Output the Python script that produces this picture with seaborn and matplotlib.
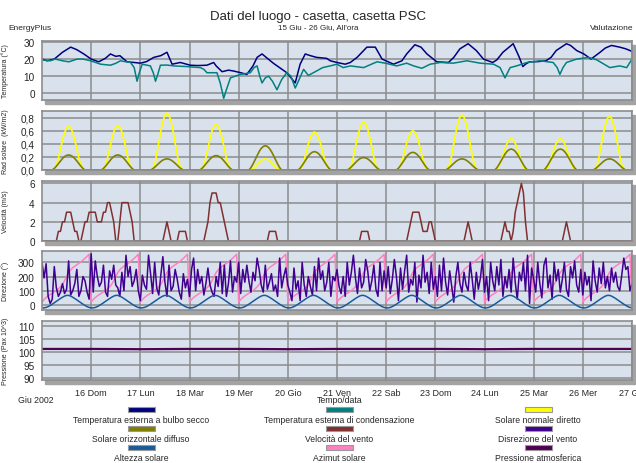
import numpy as np
import pandas as pd
import matplotlib
matplotlib.use("Agg")
import matplotlib.pyplot as plt
import seaborn as sns
from matplotlib.patches import Rectangle
from matplotlib.ticker import AutoMinorLocator, FuncFormatter

# ---------------- data (hours since 15 Jun 00:00) ----------------
day_labels = ["16 Dom", "17 Lun", "18 Mar", "19 Mer", "20 Gio", "21 Ven",
              "22 Sab", "23 Dom", "24 Lun", "25 Mar", "26 Mer", "27 Gio"]

drybulb_h = [0, 2.5, 6, 10, 14, 17, 20.4, 24, 27.7, 31, 33.4, 36, 38, 39, 41.5, 45, 48, 51, 54.6, 58,
             61, 63.5, 65.5, 67.5, 72.4, 76, 80.5, 83.8, 85, 87.9, 91, 93.5, 97, 100, 103, 105, 107.4,
             113, 119.5, 123.6, 126, 128.5, 131, 134, 139, 140.7, 144, 148, 150.5, 153.8, 158.6, 162.7,
             166, 171.6, 175.7, 178, 182, 185, 187.9, 192.7, 198.4, 201, 204, 208, 212, 215.5, 220,
             222, 225, 230, 233, 234.7, 236, 238, 242, 246, 248.5, 251, 256, 258, 261, 264.5, 268,
             272, 275, 278, 282, 285, 287, 288]
drybulb_t = [20, 19, 20, 24, 27, 25.5, 23, 20, 18.4, 20.5, 23, 21.6, 22, 21, 18.4, 18, 17.6, 18.5, 21, 22,
             24, 17, 17.5, 18, 16.4, 16.2, 16.4, 18, 16, 12.6, 13.5, 13, 12, 11, 16, 21, 23,
             17.5, 12, 6, 17, 23, 22, 21, 20.4, 19, 18, 17, 18, 21, 27, 27,
             20, 17, 19, 23, 28.4, 27, 23, 18.4, 18, 21, 26, 29, 25, 20, 18,
             19.5, 24, 29, 21, 15.6, 17, 18.4, 18.5, 19, 21, 25, 29, 28, 25, 23, 20,
             23.6, 26.5, 28, 27, 26, 25, 24.5]

dew_h = [0, 4, 6.5, 10, 13.1, 17.2, 20, 23.7, 28.6, 33.4, 36, 38.3, 41, 43.2, 45, 46.4, 47.5, 48.9,
         52.9, 54.3, 55.4, 56.5, 57.8, 61, 64.3, 70.8, 77.3, 79, 80.5, 85.4, 87, 88.7, 90, 92, 96.8,
         101.7, 103.5, 105, 106.3, 107.4, 109, 110.6, 112.5, 114.7, 117, 119.5, 121.5, 123.6, 125.5,
         127.7, 130, 134, 137, 140.7, 144, 147, 150.5, 157, 163.5, 167.6, 173.2, 178, 181.4, 185.4,
         189.5, 194.4, 200.8, 207.4, 213.9, 220.4, 223.6, 226, 228.5, 231.7, 236.6, 243, 249.5,
         251.5, 252.8, 254.3, 256, 261, 266.7, 270.7, 277.2, 282, 285.4, 288]
dew_t = [19.6, 19, 20, 19, 18.4, 20, 20, 19, 17, 16.4, 17.5, 19, 18.4, 18, 15, 7, 12, 17,
         16, 12, 7, 11, 16.4, 16.5, 16, 15.6, 15, 14, 12, 12, 6, -3, 2, 9, 11,
         12, 15, 16, 10, 6, 9, 10, 7, 2, 8, 12, 10, 3, 8,
         14, 10.4, 13, 15, 16, 17, 15, 16, 15, 18.4, 17.6, 16, 17.6, 16, 14.6,
         17, 18, 17.6, 19, 17.6, 17, 15, 9, 15, 16, 18, 19, 18,
         15, 11, 15, 18, 20, 21, 19.6, 15, 16, 15, 20]

# solar radiation: daily peaks (kW/m2) and hourly day profile (hours 5..21)
direct_peak = [0.67, 0.68, 0.87, 0.70, 0.17, 0.58, 0.73, 0.60, 0.84, 0.48, 0.48, 0.82]
diffuse_peak = [0.23, 0.23, 0.17, 0.22, 0.37, 0.28, 0.19, 0.27, 0.17, 0.32, 0.32, 0.17]
profile_hours = [5, 6, 7, 8, 9, 10, 11, 12, 13, 14, 15, 16, 17, 18, 19, 20, 21]
direct_profile = [0, 0.02, 0.1, 0.27, 0.48, 0.68, 0.85, 0.96, 1.0, 0.96, 0.85, 0.68, 0.48, 0.27, 0.1, 0.02, 0]
diffuse_profile = [0, 0.1, 0.25, 0.42, 0.6, 0.76, 0.89, 0.97, 1.0, 0.97, 0.89, 0.76, 0.6, 0.42, 0.25, 0.1, 0]

wind_h = [0, 7, 8, 9, 10, 11, 12, 13, 14, 15, 16, 17, 18, 19, 20, 21, 22, 23, 24, 25, 26, 27, 28, 29,
          30, 31, 32, 33, 34, 35, 36, 37, 38, 39, 40, 41, 42, 43, 44, 45,
          59, 60, 61, 62, 63, 66, 67, 70, 71,
          79, 80, 81, 82, 83, 84, 85, 86, 87, 88, 89, 90, 91,
          110, 111, 114, 115, 155, 156, 159, 160,
          178, 179, 180, 181, 182, 183, 184, 185, 186, 187, 188, 189, 190, 191, 192,
          206, 207, 208, 209, 210, 224, 225, 226, 227, 228, 229, 230, 231, 232, 233, 234, 235, 236, 237,
          254, 255, 256, 257, 258, 288]
wind_v = [0, 0, 1, 1, 2, 2, 3, 3, 3, 2, 1, 1, 0, 0, 1, 2, 2, 3, 3, 3, 3, 2, 2, 2,
          3, 3, 4, 4, 3, 2, 0, 0, 2, 4, 4, 4, 4, 3, 2, 0,
          0, 1, 2, 1, 0, 0, 1, 1, 0,
          0, 1, 2, 4, 5, 5, 5, 4, 4, 3, 2, 1, 0,
          0, 1, 1, 0, 0, 1, 1, 0,
          0, 1, 2, 3, 3, 3, 3, 2, 1, 1, 1, 2, 2, 1, 0,
          0, 1, 2, 1, 0, 0, 1, 2, 1, 1, 0, 1, 3, 4, 5, 6, 5, 2, 0,
          0, 1, 2, 1, 0, 0]

wind_dir = [300, 190, 290, 60, 10, 40, 270, 120, 60, 90, 150, 80, 110, 310, 70, 100, 150, 250, 60, 100, 200, 170, 90, 40,
            360, 90, 310, 200, 130, 160, 280, 90, 60, 240, 180, 280, 140, 120, 60, 230, 100, 350, 200, 270, 130, 170, 250, 100,
            30, 210, 140, 110, 350, 220, 80, 300, 120, 70, 210, 340, 160, 60, 280, 100, 130, 250, 180, 90, 40, 220, 120, 180,
            60, 250, 330, 100, 250, 150, 200, 70, 150, 260, 140, 90, 60, 200, 130, 300, 80, 280, 60, 150, 310, 90, 200, 160,
            300, 80, 250, 160, 280, 170, 90, 230, 170, 330, 250, 140, 90, 280, 110, 160, 220, 100, 140, 60, 330, 120, 200, 260,
            140, 90, 30, 260, 110, 170, 30, 300, 140, 60, 200, 130, 70, 270, 100, 330, 180, 240, 100, 160, 300, 60, 200, 170,
            250, 130, 80, 200, 60, 300, 140, 230, 350, 190, 80, 260, 120, 160, 320, 240, 100, 170, 280, 110, 60, 300, 100, 240,
            120, 270, 80, 180, 320, 200, 30, 260, 110, 240, 350, 90, 180, 140, 300, 20, 210, 120, 350, 160, 230, 80, 300, 110,
            200, 60, 280, 100, 330, 160, 70, 240, 130, 20, 200, 300, 150, 90, 230, 140, 100, 300, 180, 40, 230, 110, 190, 320,
            90, 200, 30, 300, 170, 100, 270, 140, 320, 60, 200, 120, 250, 90, 330, 160, 40, 230, 170, 300, 100, 350, 10, 260,
            180, 90, 300, 150, 50, 280, 330, 120, 210, 40, 300, 170, 250, 90, 180, 300, 110, 60, 270, 190, 310, 140, 90, 250,
            70, 230, 140, 200, 30, 310, 170, 90, 260, 150, 300, 120, 200, 100, 260, 160, 230, 130, 100, 210, 330, 250, 270, 100,
            150]

# solar altitude / azimuth: hourly values of one day (repeated each day)
altitude_day = [-21, -21, -18, -12, -4, 5, 15, 25, 35, 45, 54, 62, 67, 67, 62, 54, 45, 35, 25, 15, 5, -4, -12, -18]
azimuth_day = [20, 38, 52, 63, 73, 82, 92, 102, 113, 127, 145, 170, 200, 228, 248, 262, 273, 283, 293, 303, 315, 328, 342, 357]

pressure_h = [0, 24, 48, 72, 96, 120, 144, 168, 192, 216, 240, 264, 288]
pressure_v = [101.2, 101.2, 101.1, 101.2, 101.2, 101.1, 101.2, 101.2, 101.2, 101.1, 101.2, 101.2, 101.2]

# ---------------- build tables ----------------
n_days = 12
hours = np.arange(0, 24 * n_days + 1)
direct = np.zeros(len(hours))
diffuse = np.zeros(len(hours))
for d in range(n_days):
    for ph, dp, fp in zip(profile_hours, direct_profile, diffuse_profile):
        direct[d * 24 + ph] = direct_peak[d] * dp
        diffuse[d * 24 + ph] = diffuse_peak[d] * fp
altitude = np.array(altitude_day * n_days + [altitude_day[0]])
azimuth = np.array(azimuth_day * n_days + [azimuth_day[0]])
solar = pd.DataFrame({"h": hours, "direct": direct, "diffuse": diffuse,
                      "dir": wind_dir, "alt": altitude, "az": azimuth})

# ---------------- figure ----------------
sns.set_style("white")
plt.rcParams['font.family'] = ['Liberation Sans', 'DejaVu Sans']

W, H = 636, 464
fig = plt.figure(figsize=(W / 100, H / 100), dpi=100)
L, R = 42, 632
BG = '#d9e2ec'
GRID = '#8c8c8c'


def make_axes(top, bottom):
    fig.add_artist(Rectangle(((L + 3) / W, 1 - (bottom + 4) / H), (R - L) / W, (bottom - top) / H,
                             transform=fig.transFigure, color='#a3a3a3', zorder=-5))
    ax = fig.add_axes([L / W, 1 - bottom / H, (R - L) / W, (bottom - top) / H])
    ax.set_facecolor(BG)
    for s in ax.spines.values():
        s.set_color('#8c8c8c')
        s.set_linewidth(1.2)
    ax.set_xlim(0, 288)
    ax.set_xticks(np.arange(24, 289, 24))
    ax.grid(True, which='major', color=GRID, lw=1.1)
    ax.set_axisbelow(True)
    ax.tick_params(axis='y', which='major', direction='out', length=4, width=1,
                   color='#555555', labelsize=7.2, pad=1.2)
    ax.yaxis.set_minor_locator(AutoMinorLocator(2))
    ax.tick_params(axis='y', which='minor', direction='in', length=3, width=0.8, color='white')
    ax.tick_params(axis='x', length=0, labelbottom=False)
    ax.set_xlabel('')
    return ax


def ylab(ax, text):
    ax.set_ylabel(text, fontsize=5)
    ax.yaxis.set_label_coords((9 - L) / (R - L), 0.5)


# panel 1: temperature
ax1 = make_axes(42, 101)
sns.lineplot(x=drybulb_h, y=drybulb_t, ax=ax1, color='#000080', lw=1.1, errorbar=None)
sns.lineplot(x=dew_h, y=dew_t, ax=ax1, color='#008080', lw=1.1, errorbar=None)
ax1.set_ylim(-4, 30.6)
ax1.set_yticks([0, 10, 20, 30])
ylab(ax1, 'Temperatura (°C)')

# panel 2: solar radiation
ax2 = make_axes(112, 171)
sns.lineplot(data=solar, x='h', y='direct', ax=ax2, color='#ffff00', lw=1.2, errorbar=None)
sns.lineplot(data=solar, x='h', y='diffuse', ax=ax2, color='#808000', lw=1.2, errorbar=None)
ax2.set_ylim(0, 0.9)
ax2.set_yticks([0, 0.2, 0.4, 0.6, 0.8])
ax2.yaxis.set_major_formatter(FuncFormatter(lambda v, p: f"{v:.1f}".replace('.', ',')))
ax2.yaxis.set_minor_locator(AutoMinorLocator(4))
ylab(ax2, 'Rad solare  (kW/m2)')

# panel 3: wind speed
ax3 = make_axes(182, 242)
sns.lineplot(x=wind_h, y=wind_v, ax=ax3, color='#803030', lw=1.1, errorbar=None)
ax3.set_ylim(0, 6.25)
ax3.set_yticks([0, 2, 4, 6])
ylab(ax3, 'Velocità (m/s)')

# panel 4: wind direction, solar altitude, azimuth
ax4 = make_axes(252, 311)
sns.lineplot(data=solar, x='h', y='az', ax=ax4, color='#ff80c0', lw=1.1, errorbar=None)
sns.lineplot(data=solar, x='h', y='dir', ax=ax4, color='#400090', lw=1.1, errorbar=None)
sns.lineplot(data=solar, x='h', y='alt', ax=ax4, color='#185a9c', lw=1.1, errorbar=None)
ax4.set_ylim(-36, 380)
ax4.set_yticks([0, 100, 200, 300])
ylab(ax4, 'Direzione (°)')

# panel 5: pressure
ax5 = make_axes(322, 381)
sns.lineplot(x=pressure_h, y=pressure_v, ax=ax5, color='#500050', lw=1.6, errorbar=None)
ax5.set_ylim(89.3, 111.9)
ax5.set_yticks([90, 95, 100, 105, 110])
ylab(ax5, 'Pressione (Pax 10^3)')
ax5.tick_params(axis='x', length=4, width=1, color='#555555', direction='out',
                labelbottom=True, labelsize=6.5, pad=1.5)
ax5.set_xticklabels(day_labels)
ax5.set_xlabel('')

# texts
fig.text(318 / W, 1 - 17 / H, 'Dati del luogo - casetta, casetta PSC', ha='center', va='center', fontsize=9.5)
fig.text(318 / W, 1 - 28 / H, "15 Giu - 26 Giu, All'ora", ha='center', va='center', fontsize=5.8)
fig.text(8 / W, 1 - 28 / H, 'EnergyPlus', ha='left', va='center', fontsize=6)
fig.text(590 / W, 1 - 28 / H, 'Valutazione', ha='left', va='center', fontsize=6)
fig.text(18 / W, 1 - 401 / H, 'Giu 2002', ha='left', va='center', fontsize=6.3)
fig.text(340 / W, 1 - 401 / H, 'Tempo/data', ha='center', va='center', fontsize=6.3)

# legend
legend_items = [
    ('Temperatura esterna a bulbo secco', '#000080'),
    ('Temperatura esterna di condensazione', '#008080'),
    ('Solare normale diretto', '#ffff00'),
    ('Solare orizzontale diffuso', '#808000'),
    ('Velocità del vento', '#803030'),
    ('Disrezione del vento', '#400090'),
    ('Altezza solare', '#185a9c'),
    ('Azimut solare', '#ff80c0'),
    ('Pressione atmosferica', '#500050'),
]
col_x = [141, 339, 538]
row_sw = [410, 429, 448]
row_tx = [421, 440, 459]
for i, (lab, col) in enumerate(legend_items):
    r, c = divmod(i, 3)
    cx = col_x[c]
    fig.add_artist(Rectangle(((cx - 13.5) / W, 1 - (row_sw[r] + 2.5) / H), 27 / W, 5 / H,
                             transform=fig.transFigure, facecolor=col, edgecolor='#999999', lw=0.8))
    fig.text(cx / W, 1 - row_tx[r] / H, lab, ha='center', va='center', fontsize=6.2)

fig.savefig('out.png', dpi=100)
